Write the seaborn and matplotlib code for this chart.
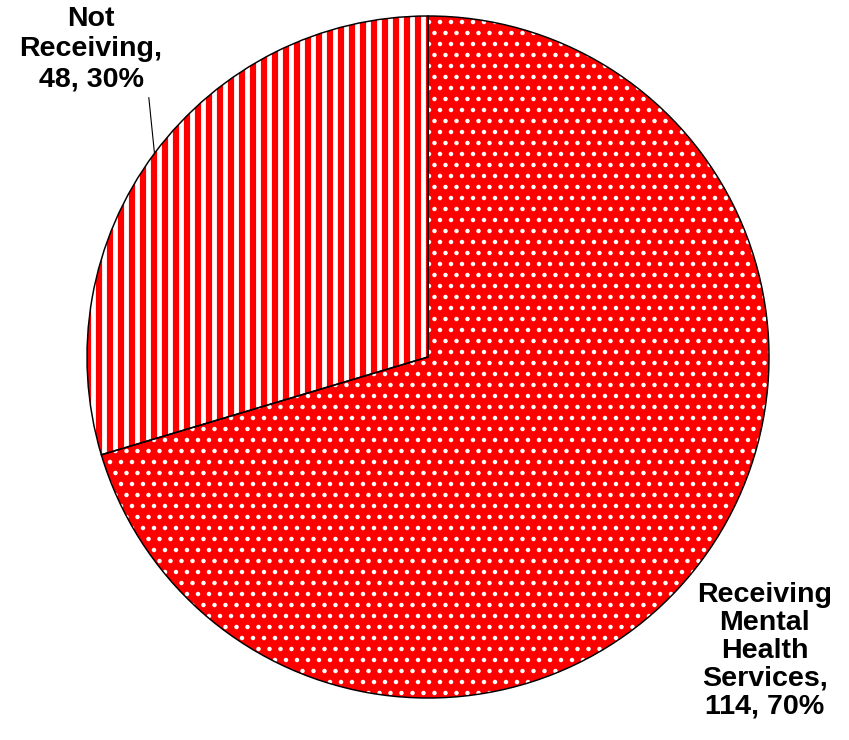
import numpy as np
import pandas as pd
import matplotlib
matplotlib.use("Agg")
import matplotlib.pyplot as plt
import seaborn as sns

# ---- data ----
categories = ["Receiving\nMental\nHealth\nServices", "Not\nReceiving"]
counts = [114, 48]
percents = [70, 30]
fill_color = "#FF0000"
hatches = [".", "|"]

sns.set_theme(style="white")
plt.rcParams["font.family"] = ["Liberation Sans", "DejaVu Sans"]

DPI = 200 / 3
fig = plt.figure(figsize=(850 / DPI, 740 / DPI), dpi=DPI)
fig.patch.set_facecolor("white")

cx, cy, r = 428, 357, 341
W, H = 850, 740
ax = fig.add_axes([(cx - r) / W, (H - cy - r) / H, 2 * r / W, 2 * r / H])

df = pd.DataFrame({"category": categories, "count": counts, "pct": percents})

# fill with white hatch
wedges, _ = ax.pie(df["count"], startangle=90, counterclock=False, radius=1,
                   colors=[fill_color] * len(df), hatch=hatches,
                   wedgeprops=dict(edgecolor="white", linewidth=0))
hlw = [2.4, 5.2]
for w, lw in zip(wedges, hlw):
    if hasattr(w, "set_hatch_linewidth"):
        w.set_hatch_linewidth(lw)

# black outlines
outl, _ = ax.pie(df["count"], startangle=90, counterclock=False, radius=1,
                 colors=["none"] * len(df),
                 wedgeprops=dict(edgecolor="black", linewidth=1.6, fill=False))

ax.set_xlim(-1, 1)
ax.set_ylim(-1, 1)
ax.set_aspect("equal")
ax.axis("off")

fs = 31
labels = [f"{c},\n{n}, {p}%" for c, n, p in zip(df["category"], df["count"], df["pct"])]

# Receiving label
ax.text(0.988, -0.862, labels[0], ha="center", va="center", fontsize=fs,
        fontweight="bold", linespacing=1.1, color="black")

# Not receiving label with leader
w1 = outl[1]
mid = np.deg2rad((w1.theta1 + w1.theta2) / 2)
ax.annotate(labels[1], xy=(np.cos(mid), np.sin(mid)), xytext=(-0.988, 0.902),
            ha="center", va="center", fontsize=fs, fontweight="bold",
            linespacing=1.2, color="black",
            arrowprops=dict(arrowstyle="-", color="black", lw=1.2,
                            shrinkA=3, shrinkB=0, relpos=(0.9, 0.0)),
            annotation_clip=False)

fig.savefig("out.png", dpi=DPI, facecolor="white")
